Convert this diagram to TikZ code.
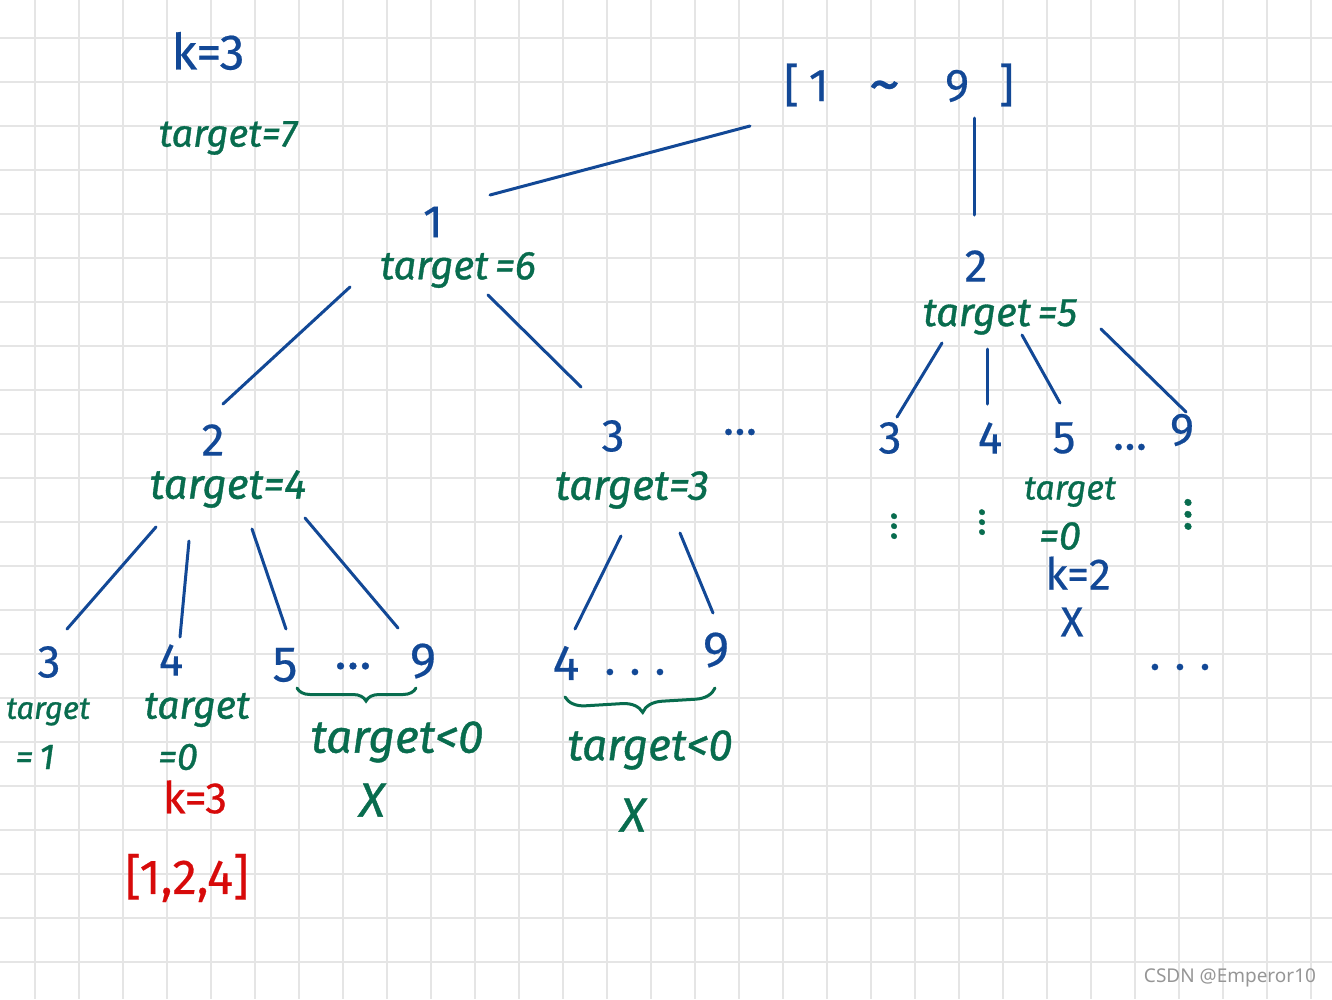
\documentclass[tikz,border=0pt]{standalone}
\usepackage{fontspec}
\setmainfont{Fira Sans}[UprightFeatures={FakeBold=0.4},ItalicFeatures={FakeBold=0.9}]
\newfontfamily\wmfont{Noto Sans}
\usetikzlibrary{calc,decorations.pathreplacing}
\definecolor{penblue}{RGB}{18,72,150}
\definecolor{pengreen}{RGB}{8,108,78}
\definecolor{penred}{RGB}{215,10,10}
\definecolor{gridgray}{RGB}{229,229,229}
\definecolor{wmgray}{RGB}{150,150,150}
\newcommand{\fsz}[1]{\fontsize{#1}{#1}\selectfont}
\begin{document}
\begin{tikzpicture}[x=1pt,y=-1pt,
  every node/.style={inner sep=0pt,outer sep=0pt},
  blu/.style={text=penblue,font=\fsz{46}},
  grn/.style={text=pengreen,font=\itshape\fsz{40}},
  rd/.style={text=penred,font=\fsz{42}},
  gridline/.style={draw=gridgray,line width=2pt},
  edge/.style={draw=penblue,line width=3pt,line cap=round},
  brc/.style={draw=pengreen,line width=3pt,line cap=round,decorate,
     decoration={brace,mirror,amplitude=13pt,aspect=0.58}},
]
\fill[white] (0,0) rectangle (1332,999);
\useasboundingbox (0,0) rectangle (1332,999);
% grid
\foreach \i in {0,...,29} \draw[gridline] ({35+44*\i},0) -- ({35+44*\i},999);
\foreach \j in {0,...,21} \draw[gridline] (0,{38.3+44*\j}) -- (1332,{38.3+44*\j});

% top-left
\node[blu,font=\fsz{50}] (kk) at (208,51) {k=3};
\node[grn,font=\itshape\fsz{38}] (tt) at (228,138) {target=7};

% root
\node[blu,font=\fsz{46}] (root) at (899,85) {[\hspace{10pt}1\hspace{40pt}\raisebox{-4pt}{\fsz{64}\textasciitilde}\hspace{45pt}9\hspace{30pt}]};

% level 1
\node[blu] (n1) at (433,222) {1};
\node[grn] (t1) at (458,270) {target\,=6};
\node[blu] (n2) at (976,266) {2};
\node[grn] (t2) at (1000,317) {target\,=5};

% level 2
\node[blu] (a2) at (213,440) {2};
\node[grn,font=\itshape\fsz{42}] (ta2) at (228,489) {target=4};
\node[blu] (b3) at (613,436) {3};
\node[grn,font=\itshape\fsz{42}] (tb3) at (632,490) {target=3};
\node[blu] (dA) at (740,432) {…};

\node[blu] (c3) at (890,438) {3};
\node[blu] (c4) at (990,438) {4};
\node[blu] (c5) at (1064,438) {5};
\node[blu] (dB) at (1130,447) {…};
\node[blu] (c9) at (1182,430) {9};

\node[grn,rotate=90] (vd3) at (894,525) {…};
\node[grn,rotate=90] (vd4) at (982,521) {…};
\node[grn,rotate=90,font=\itshape\fsz{48}] (vd9) at (1188,513) {…};

\node[grn,font=\itshape\fsz{34}] (tc5) at (1070,492) {target};
\node[grn,font=\itshape\fsz{40}] (ec5) at (1060,536) {=0};
\node[blu,font=\fsz{44}] (kc5) at (1078,573) {k=2};
\node[blu,font=\fsz{42}] (xc5) at (1072,622) {X};
\node[blu] (dC) at (1180,667) {.\hspace{14pt}.\hspace{14pt}.};

% level 3 under target=4
\node[blu] (a3) at (49,662) {3};
\node[grn,font=\itshape\fsz{31}] (ta3) at (48,712) {target};
\node[grn,font=\itshape\fsz{36}] (ea3) at (35,757) {=\,1};
\node[blu] (a4) at (171,660) {4};
\node[grn,font=\itshape\fsz{39}] (ta4) at (197,710) {target};
\node[grn,font=\itshape\fsz{38}] (ea4) at (178,757) {=0};
\node[rd,font=\fsz{44}] (ka4) at (195,797) {k=3};
\node[rd,font=\fsz{49}] (res) at (187,878) {[1,2,4]};
\node[blu,font=\fsz{50}] (a5) at (285,665) {5};
\node[blu,font=\fsz{50}] (dD) at (353,666) {…};
\node[blu,font=\fsz{50}] (a9) at (423,661) {9};
\node[grn,font=\itshape\fsz{46}] (lt1) at (397,742) {target<0};
\node[grn,font=\itshape\fsz{48}] (x1) at (372,800) {X};

% level 3 under target=3
\node[blu,font=\fsz{50}] (b4) at (566,663) {4};
\node[blu] (dE) at (635,672) {.\hspace{14pt}.\hspace{14pt}.};
\node[blu,font=\fsz{50}] (b9) at (716,650) {9};
\node[grn,font=\itshape\fsz{44}] (lt2) at (650,750) {target<0};
\node[grn,font=\itshape\fsz{48}] (x2) at (633,815) {X};

% braces
\draw[brc] (297,688) -- (416,688);
\draw[brc,decoration={brace,mirror,amplitude=20pt,aspect=0.51}] (565,697) -- (715,688);

% connectors
\draw[edge] ($(root)+(-149,41)$) -- ($(n1)+(57,-27)$);
\draw[edge] ($(root)+(75,33)$) -- ($(n2)+(-2,-51)$);
\draw[edge] ($(t1)+(-108,17)$) -- ($(a2)+(10,-36)$);
\draw[edge] ($(t1)+(30,25)$) -- ($(b3)+(-32,-49)$);
\draw[edge] ($(t2)+(-58,26)$) -- ($(c3)+(7,-21)$);
\draw[edge] ($(t2)+(-13,32)$) -- ($(c4)+(-3,-34)$);
\draw[edge] ($(t2)+(22,18)$) -- ($(c5)+(-4,-35)$);
\draw[edge] ($(t2)+(101,12)$) -- ($(c9)+(4,-18)$);
\draw[edge] ($(ta2)+(-72,38)$) -- ($(a3)+(18,-33)$);
\draw[edge] ($(ta2)+(-39,52)$) -- ($(a4)+(9,-23)$);
\draw[edge] ($(ta2)+(24,40)$) -- ($(a5)+(1,-36)$);
\draw[edge] ($(ta2)+(77,29)$) -- ($(a9)+(-25,-33)$);
\draw[edge] ($(tb3)+(-11,46)$) -- ($(b4)+(9,-34)$);
\draw[edge] ($(tb3)+(48,43)$) -- ($(b9)+(-3,-37)$);

% watermark
\node[font=\wmfont\fsz{19},text=wmgray] (wmk) at (1230,978) {CSDN @Emperor10};
\end{tikzpicture}
\end{document}
